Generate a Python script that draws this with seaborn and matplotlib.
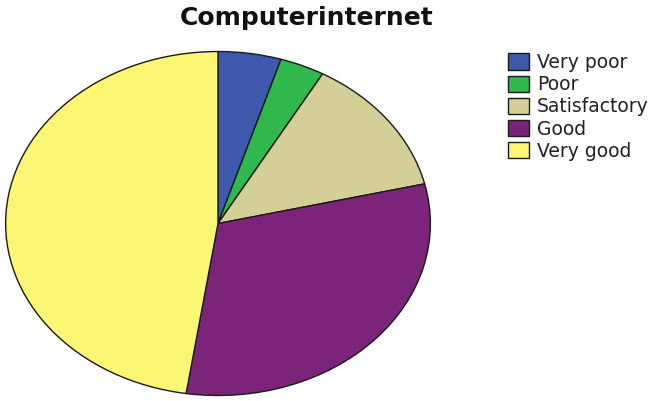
import matplotlib
matplotlib.use("Agg")
import matplotlib.pyplot as plt
import seaborn as sns

sns.set_theme(style="white")
plt.rcParams["font.family"] = ["DejaVu Sans"]

# Share of respondents rating their computer / internet access
categories = ["Very poor", "Poor", "Satisfactory", "Good", "Very good"]
percent = [4.8, 3.4, 13.1, 31.1, 47.6]
colors = ["#3E58AC", "#2FB84B", "#D4CF98", "#7B2479", "#FBF674"]

fig = plt.figure(figsize=(6.54, 4.01), dpi=100)
fig.patch.set_facecolor("white")

W, H = 654, 401
# Pie axes span the ellipse bounding box (stretched, not equal aspect)
left, right, top, bottom = 5, 431, 51, 396
ax = fig.add_axes([left / W, 1 - bottom / H, (right - left) / W, (bottom - top) / H])

wedges, _ = ax.pie(
    percent,
    colors=colors,
    startangle=90,
    counterclock=False,
    radius=1.0,
    wedgeprops=dict(edgecolor="#1a1a1a", linewidth=1.0),
)
ax.set_aspect("auto")
ax.set_xlim(-1.003, 1.003)
ax.set_ylim(-1.003, 1.003)
ax.axis("off")

fig.text(307 / W, 1 - 25 / H, "Computerinternet", ha="center", va="baseline",
         fontsize=18, fontweight="bold", color="#111111")

leg = fig.legend(
    wedges, categories,
    loc="upper left",
    bbox_to_anchor=(508 / W, 1 - 53 / H),
    frameon=False,
    fontsize=13.5,
    borderpad=0,
    borderaxespad=0,
    handlelength=1.1,
    handleheight=0.95,
    handletextpad=0.45,
    labelspacing=0.17,
)
for t in leg.get_texts():
    t.set_color("#222222")

fig.savefig("out.png", dpi=100, facecolor="white")
